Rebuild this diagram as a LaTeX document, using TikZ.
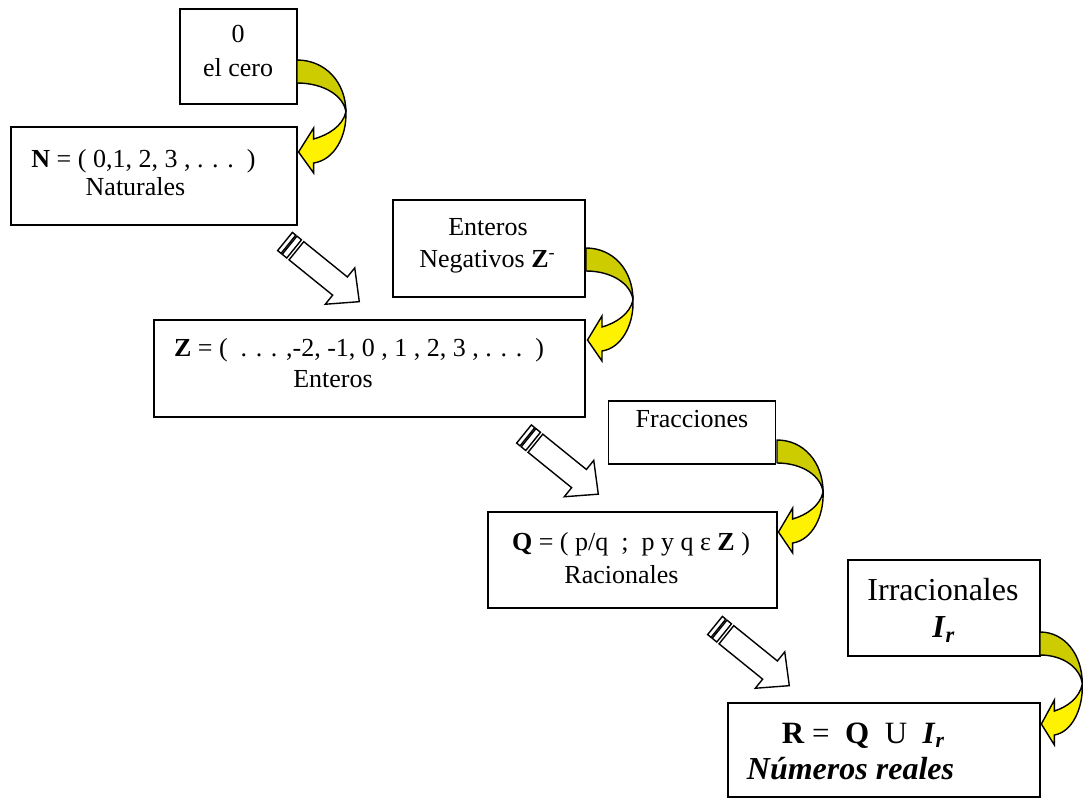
\documentclass[tikz,border=0pt]{standalone}
\usepackage{fontspec}
\setmainfont{Liberation Serif}
\tikzset{
  box/.style={draw=black, line width=0.9pt, fill=white, inner sep=0pt, outer sep=0pt},
  lbl/.style={anchor=base, inner sep=0pt, font=\fontsize{13}{15.5}\selectfont},
  bigl/.style={anchor=base, inner sep=0pt, font=\fontsize{16}{19}\selectfont},
  arrline/.style={draw=black, line width=0.7pt, fill=white, line join=miter},
  curvarrow/.pic={
    \draw[line width=0.7pt, fill=olivey, line join=round]
      (0,0) .. controls (27,0) and (47,22) .. (47,52)
      .. controls (45,36) and (26,23) .. (0,23) -- cycle;
    \draw[line width=0.7pt, fill=yellow, line join=miter]
      (47,52) .. controls (48,76) and (36,100) .. (16,103)
      -- (16,113) -- (1.5,92) -- (16,68) -- (16,79)
      .. controls (30,75) and (44,66) .. (47,52) -- cycle;
  },
  striparrow/.pic={
    \draw[arrline] (0,-11.7) rectangle (4.4,11.7);
    \draw[arrline] (5.9,-11.7) rectangle (11.75,11.7);
    \draw[arrline] (14.7,-11.7) -- (70.8,-11.7) -- (70.8,-23.4) -- (95.6,0)
      -- (70.8,23.4) -- (70.8,11.7) -- (14.7,11.7) -- cycle;
  }
}
\definecolor{olivey}{RGB}{204,204,0}
\begin{document}
\begin{tikzpicture}[x=0.5pt,y=-0.5pt]
\useasboundingbox (0,0) rectangle (1083,799);

% boxes
\node[box, minimum width=58.5pt, minimum height=47.5pt] (b0) at (238.5,56.5) {};
\node[box, minimum width=143pt, minimum height=49pt] (bN) at (154,176) {};
\node[box, minimum width=96pt, minimum height=48.5pt] (bEN) at (489,248.5) {};
\node[box, minimum width=215.5pt, minimum height=48.5pt] (bZ) at (369.5,368.5) {};
\node[box, minimum width=83.5pt, minimum height=31.5pt] (bF) at (692,432.5) {};
\node[box, minimum width=144.5pt, minimum height=48pt] (bQ) at (632.5,560) {};
\node[box, minimum width=96pt, minimum height=48pt] (bI) at (944,608) {};
\node[box, minimum width=156pt, minimum height=47pt] (bR) at (884,750) {};

% texts
\node[lbl] (t0a) at (238,42) {0};
\node[lbl] (t0b) at (238,76) {el cero};
\node[lbl] (tNa) at (143.5,167) {\textbf{N} = ( 0,1, 2, 3 , . . .~~)};
\node[lbl] (tNb) at (135.5,195) {Naturales};
\node[lbl] (tENa) at (488,235) {Enteros};
\node[lbl] (tENb) at (487.5,267) {Negativos \textbf{Z}\textsuperscript{-}};
\node[lbl] (tZa) at (359,356) {\textbf{Z} = (~~. . . ,-2, -1, 0 , 1 , 2, 3 , . . .~~)};
\node[lbl] (tZb) at (333,387) {Enteros};
\node[lbl] (tF) at (692,427) {Fracciones};
\node[lbl] (tQa) at (631,550) {\textbf{Q} = ( p/q~~;~~p y q ε \textbf{Z} )};
\node[lbl] (tQb) at (621.5,583) {Racionales};
\node[bigl] (tIa) at (943,600) {Irracionales};
\node[bigl] (tIb) at (944,637) {\textbf{\textit{I}}\textsubscript{\textbf{\textit{r}}}};
\node[anchor=base, inner sep=0pt, font=\fontsize{15.5}{19}\selectfont] (tRa) at (863.5,743) {\textbf{R} =~~\textbf{Q}~~U~~\textbf{\textit{I}}\textsubscript{\textbf{\textit{r}}}};
\node[anchor=base, inner sep=0pt, font=\fontsize{16}{19}\selectfont] (tRb) at (850.5,779) {\textbf{\textit{Números reales}}};

% curved arrows
\pic[xscale=1.04] at (297,60) {curvarrow};
\pic at (586,248) {curvarrow};
\pic[xscale=0.98] at (777,440) {curvarrow};
\pic[xscale=0.9] at (1040,632) {curvarrow};

% striped arrows
\pic[rotate=-39] at (285,241.5) {striparrow};
\pic[rotate=-39] at (524,434) {striparrow};
\pic[rotate=-39] at (715,625.5) {striparrow};
\end{tikzpicture}
\end{document}
